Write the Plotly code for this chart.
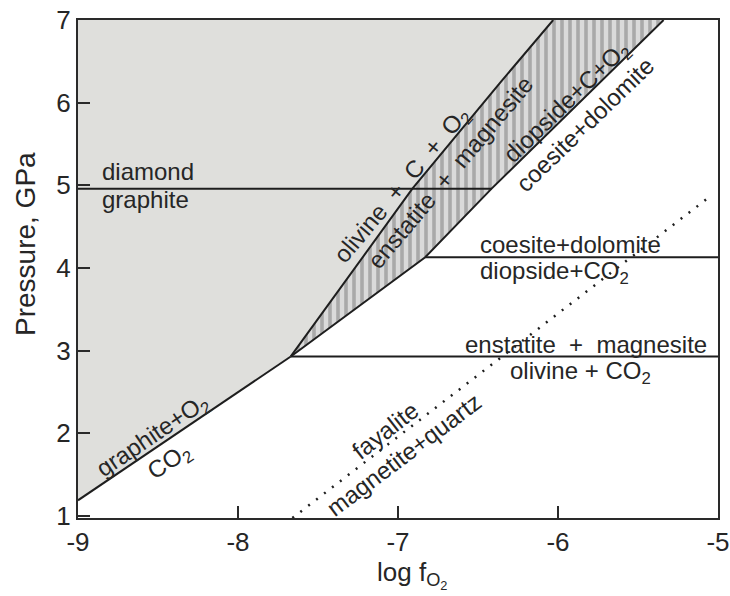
import plotly.graph_objects as go

# Phase boundaries in log fO2 (x) vs pressure in GPa (y)
graphite_co2_x = [-9.0, -8.5, -8.0, -7.67]
graphite_co2_y = [1.19, 1.84, 2.50, 2.93]

# enstatite + magnesite = olivine + C + O2
olivine_c_x = [-7.67, -7.415, -6.91, -6.3625, -6.03]
olivine_c_y = [2.93, 3.61, 4.96, 6.24, 7.0]

# diopside + C + O2 = coesite + dolomite
diopside_c_x = [-7.67, -6.83, -6.415, -5.34]
diopside_c_y = [2.93, 4.13, 4.96, 7.0]

# horizontal reactions
diamond_graphite_x = [-9.0, -6.415]
diamond_graphite_y = [4.96, 4.96]
coesite_dolomite_x = [-6.83, -5.0]
coesite_dolomite_y = [4.13, 4.13]
enstatite_magnesite_x = [-7.67, -5.0]
enstatite_magnesite_y = [2.93, 2.93]

# fayalite = magnetite + quartz buffer
fmq_x = [-7.66, -5.04]
fmq_y = [0.976, 4.88]

x_ticks = [-9, -8, -7, -6, -5]
y_ticks = [1, 2, 3, 4, 5, 6, 7]

LINE = "#1e1e1e"
TEXT = "#262626"
FONT = "Arial, Liberation Sans, sans-serif"
SP = "\u00a0"

fig = go.Figure()

# grey field of graphite/diamond + O2
grey_x = graphite_co2_x + olivine_c_x[1:] + [-9.0, -9.0]
grey_y = graphite_co2_y + olivine_c_y[1:] + [7.0, graphite_co2_y[0]]
fig.add_trace(go.Scatter(x=grey_x, y=grey_y, mode="lines", fill="toself",
                         fillcolor="#dfdfdc", line=dict(width=0),
                         hoverinfo="skip", showlegend=False))

# hatched field between the two carbonate reactions
hatch_x = olivine_c_x + diopside_c_x[::-1]
hatch_y = olivine_c_y + diopside_c_y[::-1]
fig.add_trace(go.Scatter(x=hatch_x, y=hatch_y, mode="lines", fill="toself",
                         fillcolor="#dadada", line=dict(width=0),
                         fillpattern=dict(shape="|", fgcolor="#a9a9a9",
                                          bgcolor="#dadada", size=8,
                                          solidity=0.45, fillmode="replace"),
                         hoverinfo="skip", showlegend=False))

for xs, ys in [(graphite_co2_x, graphite_co2_y), (olivine_c_x, olivine_c_y),
               (diopside_c_x, diopside_c_y),
               (diamond_graphite_x, diamond_graphite_y),
               (coesite_dolomite_x, coesite_dolomite_y),
               (enstatite_magnesite_x, enstatite_magnesite_y)]:
    fig.add_trace(go.Scatter(x=xs, y=ys, mode="lines",
                             line=dict(color=LINE, width=2),
                             hoverinfo="skip", showlegend=False))

fig.add_trace(go.Scatter(x=fmq_x, y=fmq_y, mode="lines",
                         line=dict(color=LINE, width=2.5, dash="2px,8px"),
                         hoverinfo="skip", showlegend=False))

# field / reaction labels: text, x, y, angle, anchor
labels = [
    ("diamond", -8.86, 5.17, 0, "left"),
    ("graphite", -8.86, 4.83, 0, "left"),
    ("graphite+O<sub>2</sub>", -8.53, 1.96, -34, "center"),
    ("CO<sub>2</sub>", -8.43, 1.65, -34, "center"),
    (f"olivine{SP} +{SP} C{SP} +{SP} O<sub>2</sub>", -6.97, 5.0, -50, "center"),
    (f"enstatite{SP} +{SP} magnesite", -6.675, 5.16, -50, "center"),
    ("diopside+C+O<sub>2</sub>", -5.94, 6.0, -44, "center"),
    ("coesite+dolomite", -5.83, 5.73, -44, "center"),
    ("coesite+dolomite", -5.92, 4.29, 0, "center"),
    ("diopside+CO<sub>2</sub>", -6.02, 3.94, 0, "center"),
    (f"enstatite{SP} +{SP} magnesite", -5.825, 3.08, 0, "center"),
    ("olivine + CO<sub>2</sub>", -5.86, 2.74, 0, "center"),
    ("fayalite", -7.08, 2.04, -38, "center"),
    ("magnetite+quartz", -6.96, 1.74, -37, "center"),
]
for text, x, y, ang, anchor in labels:
    fig.add_annotation(x=x, y=y, text=text, showarrow=False, textangle=ang,
                       xanchor=anchor, yanchor="middle",
                       font=dict(family=FONT, size=24, color=TEXT))

# axis titles
fig.add_annotation(xref="paper", yref="paper", x=-0.083, y=0.55,
                   text="Pressure, GPa", textangle=-90, showarrow=False,
                   xanchor="center", yanchor="middle",
                   font=dict(family=FONT, size=28, color=TEXT))
fig.add_annotation(xref="paper", yref="paper", x=0.522, y=-0.114,
                   text="log f<sub>O<sub>2</sub></sub>", showarrow=False,
                   xanchor="center", yanchor="middle",
                   font=dict(family=FONT, size=26, color=TEXT))

axis_common = dict(showgrid=False, zeroline=False, showline=True,
                   linecolor="#2a2a2a", linewidth=2, mirror=True,
                   ticks="inside", ticklen=12, tickwidth=2, tickcolor="#2a2a2a",
                   automargin=False,
                   tickfont=dict(family=FONT, size=26, color=TEXT))

fig.update_xaxes(range=[-9, -5], tickvals=x_ticks,
                 ticktext=[str(v) for v in x_ticks], **axis_common)
fig.update_yaxes(range=[0.976, 7.0], tickvals=y_ticks,
                 ticktext=[str(v) for v in y_ticks], **axis_common)

fig.update_layout(width=730, height=596,
                  margin=dict(l=78, r=12, t=20, b=78, autoexpand=False),
                  plot_bgcolor="white", paper_bgcolor="white",
                  showlegend=False)

fig.write_html("out.html")
